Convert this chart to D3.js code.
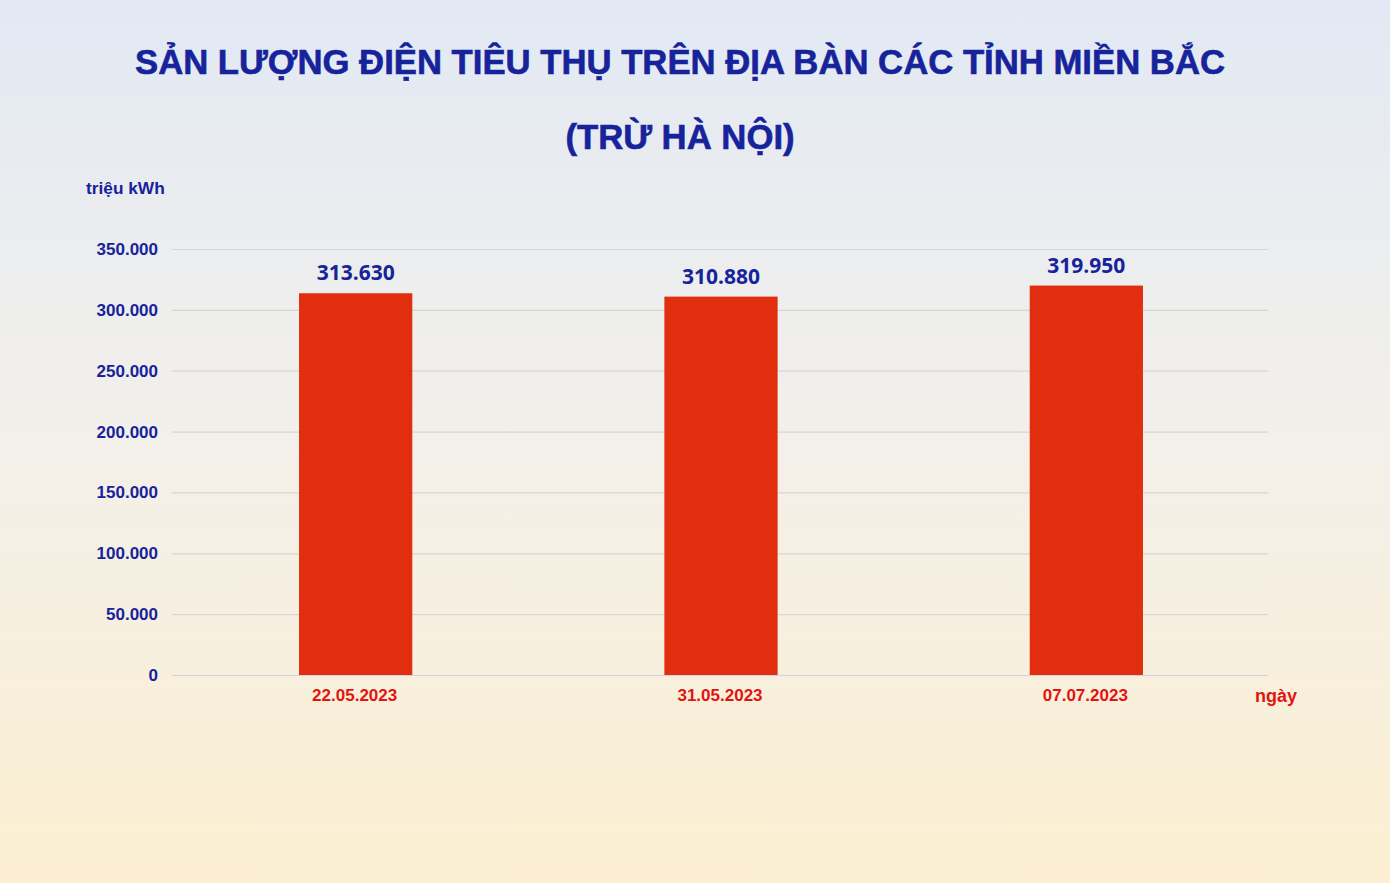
<!DOCTYPE html>
<html>
<head>
<meta charset="utf-8">
<script src="https://cdn.jsdelivr.net/npm/d3@7"></script>
<style>
  html, body { margin: 0; padding: 0; }
  body { width: 1390px; height: 883px; overflow: hidden; }
  svg { display: block; }
</style>
</head>
<body>
<svg id="chart" width="1390" height="883"></svg>
<script>
// data
const dates = ["22.05.2023", "31.05.2023", "07.07.2023"];
const values = [313630, 310880, 319950];
const yTicks = [0, 50000, 100000, 150000, 200000, 250000, 300000, 350000];
const titleLines = ["SẢN LƯỢNG ĐIỆN TIÊU THỤ TRÊN ĐỊA BÀN CÁC TỈNH MIỀN BẮC", "(TRỪ HÀ NỘI)"];

const W = 1390, H = 883;
const margin = { top: 249, right: 122, bottom: 208, left: 172 };
const width = W - margin.left - margin.right;
const height = H - margin.top - margin.bottom;

const navy = "#16239b";
const red = "#e3140f";
const barColor = "#e02e0e";

const svg = d3.select("#chart");

// background gradient
const defs = svg.append("defs");
const grad = defs.append("linearGradient")
  .attr("id", "bg").attr("x1", 0).attr("y1", 0).attr("x2", 0).attr("y2", 1);
grad.append("stop").attr("offset", "0%").attr("stop-color", "#e2e9f4");
grad.append("stop").attr("offset", "50%").attr("stop-color", "#f3f0ea");
grad.append("stop").attr("offset", "100%").attr("stop-color", "#fcefd1");
svg.append("rect").attr("width", W).attr("height", H).attr("fill", "url(#bg)");

// title
svg.append("g").selectAll("text")
  .data(titleLines)
  .enter().append("text")
  .attr("x", 680)
  .attr("y", (d, i) => 74 + i * 75)
  .attr("text-anchor", "middle")
  .attr("font-family", "Liberation Sans, Arial, sans-serif")
  .attr("font-weight", "bold")
  .attr("font-size", 34.7)
  .attr("stroke", navy)
  .attr("stroke-width", 0.6)
  .attr("fill", navy)
  .text(d => d);

const g = svg.append("g")
  .attr("transform", "translate(" + margin.left + "," + margin.top + ")");

const x = d3.scaleBand().domain(dates).range([0, width]).paddingInner(0.69).paddingOuter(0.345);
const y = d3.scaleLinear().domain([0, 350000]).range([height, 0]);

// gridlines
g.append("g")
  .call(d3.axisLeft(y).tickValues(yTicks).tickSize(-width).tickFormat(""))
  .call(s => s.select(".domain").remove())
  .call(s => s.selectAll("line").attr("stroke", "#d6d6d8").attr("stroke-width", 1.2));

// y tick labels
g.append("g")
  .call(d3.axisLeft(y).tickValues(yTicks).tickSize(0).tickPadding(14)
    .tickFormat(d => d === 0 ? "0" : d3.format(",")(d).replace(/,/g, ".")))
  .call(s => s.select(".domain").remove())
  .call(s => s.selectAll("text")
    .attr("font-family", "Liberation Sans, Arial, sans-serif")
    .attr("font-weight", "bold")
    .attr("font-size", 17)
    .attr("fill", navy));

// bars
g.selectAll(".bar")
  .data(values)
  .enter().append("rect")
  .attr("class", "bar")
  .attr("x", (d, i) => x(dates[i]) + 1)
  .attr("width", x.bandwidth())
  .attr("y", d => y(d))
  .attr("height", d => height - y(d))
  .attr("fill", barColor);

// value labels
g.selectAll(".val")
  .data(values)
  .enter().append("text")
  .attr("class", "val")
  .attr("x", (d, i) => x(dates[i]) + x.bandwidth() / 2 + 1)
  .attr("y", d => y(d) - 13)
  .attr("text-anchor", "middle")
  .attr("font-family", "Open Sans, sans-serif")
  .attr("font-weight", "bold")
  .attr("font-size", 21)
  .attr("fill", navy)
  .text(d => d3.format(",")(d).replace(/,/g, "."));

// x axis
g.append("g")
  .attr("transform", "translate(0," + height + ")")
  .call(d3.axisBottom(x).tickSize(0).tickPadding(14))
  .call(s => s.select(".domain").attr("stroke", "#cfd0e0").attr("stroke-width", 1.2))
  .call(s => s.selectAll("text")
    .attr("font-family", "Liberation Sans, Arial, sans-serif")
    .attr("font-weight", "bold")
    .attr("font-size", 17)
    .attr("fill", red));

// axis titles
svg.append("text")
  .attr("x", 86).attr("y", 194)
  .attr("font-family", "Liberation Sans, Arial, sans-serif")
  .attr("font-weight", "bold")
  .attr("font-size", 17.3)
  .attr("fill", navy)
  .text("triệu kWh");

svg.append("text")
  .attr("x", 1255).attr("y", 702)
  .attr("font-family", "Liberation Sans, Arial, sans-serif")
  .attr("font-weight", "bold")
  .attr("font-size", 18)
  .attr("fill", red)
  .text("ngày");
</script>
</body>
</html>
